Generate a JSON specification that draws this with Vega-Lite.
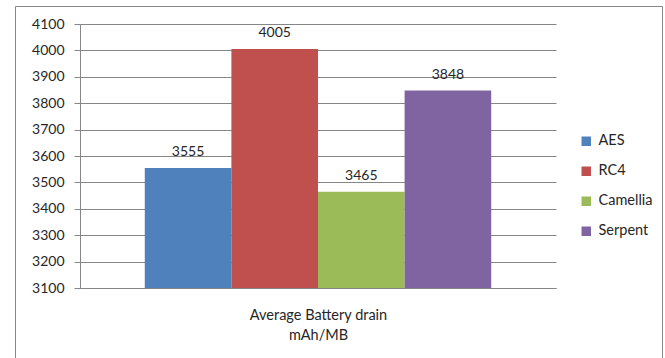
{
  "$schema": "https://vega.github.io/schema/vega-lite/v6.json",
  "autosize": "none",
  "padding": {"left": 15, "top": 6, "right": 3, "bottom": 0},
  "width": 647,
  "height": 356,
  "background": "white",
  "config": {
    "font": "Lato",
    "view": {"stroke": "#868686", "strokeWidth": 1}
  },
  "data": {
    "values": [
      {"algorithm": "AES", "drain": 3555},
      {"algorithm": "RC4", "drain": 4005},
      {"algorithm": "Camellia", "drain": 3465},
      {"algorithm": "Serpent", "drain": 3848}
    ]
  },
  "encoding": {
    "x": {
      "field": "algorithm",
      "type": "nominal",
      "sort": null,
      "scale": {"range": [65, 541], "paddingInner": 0, "paddingOuter": 0.748},
      "axis": {
        "labels": false,
        "ticks": false,
        "grid": false,
        "domainColor": "#868686",
        "offset": -74,
        "title": ["Average Battery drain", "mAh/MB"],
        "titleFontSize": 14.5,
        "titleFontWeight": "normal",
        "titleColor": "#262626",
        "titlePadding": 20,
        "titleLineHeight": 20
      }
    },
    "y": {
      "field": "drain",
      "type": "quantitative",
      "scale": {"domain": [3100, 4100], "range": [282, 18], "zero": false, "nice": false},
      "axis": {
        "values": [3100, 3200, 3300, 3400, 3500, 3600, 3700, 3800, 3900, 4000, 4100],
        "format": "d",
        "grid": true,
        "gridColor": "#868686",
        "domainColor": "#868686",
        "tickColor": "#868686",
        "tickSize": 6,
        "offset": -65,
        "labelFontSize": 14,
        "labelColor": "#262626",
        "labelPadding": 10,
        "title": null
      }
    }
  },
  "layer": [
    {
      "mark": {"type": "bar"},
      "encoding": {
        "y2": {"datum": 3100},
        "color": {
          "field": "algorithm",
          "type": "nominal",
          "sort": null,
          "scale": {
            "domain": ["AES", "RC4", "Camellia", "Serpent"],
            "range": ["#4F81BD", "#C0504D", "#9BBB59", "#8064A2"]
          },
          "legend": {
            "orient": "none",
            "legendX": 564,
            "legendY": 128,
            "title": null,
            "symbolType": "square",
            "symbolSize": 90,
            "symbolStrokeWidth": 0,
            "labelFontSize": 14.5,
            "labelColor": "#262626",
            "labelOffset": 5,
            "rowPadding": 15
          }
        }
      }
    },
    {
      "mark": {"type": "text", "dy": -16, "fontSize": 14, "color": "#262626"},
      "encoding": {"text": {"field": "drain", "type": "quantitative", "format": "d"}}
    }
  ]
}
